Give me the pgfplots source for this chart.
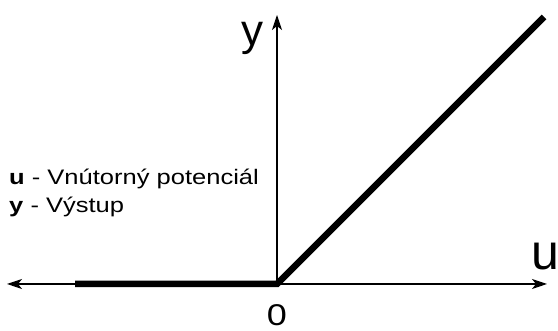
\documentclass[border=0pt]{standalone}
\usepackage{fontspec}
\setmainfont{Liberation Sans}
\usepackage{pgfplots}
\pgfplotsset{compat=1.18}
\usetikzlibrary{arrows.meta}
\begin{document}
\begin{tikzpicture}[x=1pt,y=1pt]
\useasboundingbox (0,0) rectangle (558,331);
\begin{axis}[
  at={(7pt,47pt)}, anchor=south west,
  scale only axis, width=540pt, height=269pt,
  xmin=-270, xmax=270, ymin=0, ymax=269,
  axis lines=middle,
  xtick=\empty, ytick=\empty,
  clip=false,
  axis line style={line width=1.2pt, black},
  x axis line style={{Stealth[length=15pt,width=10pt,inset=4pt]}-{Stealth[length=15pt,width=10pt,inset=4pt]}},
  y axis line style={-{Stealth[length=15pt,width=10pt,inset=4pt]}},
]
\addplot[black, line width=6.5pt, line join=miter, line cap=butt] coordinates {(-202,0) (0,0) (267,267)};
\node[anchor=base west, font=\fontsize{21}{23}\selectfont, inner sep=0pt, xscale=1.215] at (axis cs:-268,99) {\textbf{u} - Vnútorný potenciál};
\node[anchor=base west, font=\fontsize{21}{23}\selectfont, inner sep=0pt, xscale=1.215] at (axis cs:-268,71) {\textbf{y} - Výstup};
\node[anchor=base west, font=\fontsize{44}{46}\selectfont, inner sep=0pt] at (axis cs:-36,238) {y};
\node[anchor=base west, font=\fontsize{50}{52}\selectfont, inner sep=0pt] at (axis cs:254,14) {u};
\node[anchor=base, font=\fontsize{30}{32}\selectfont, inner sep=0pt, xscale=1.2] at (axis cs:0,-42) {0};
\end{axis}
\end{tikzpicture}
\end{document}
